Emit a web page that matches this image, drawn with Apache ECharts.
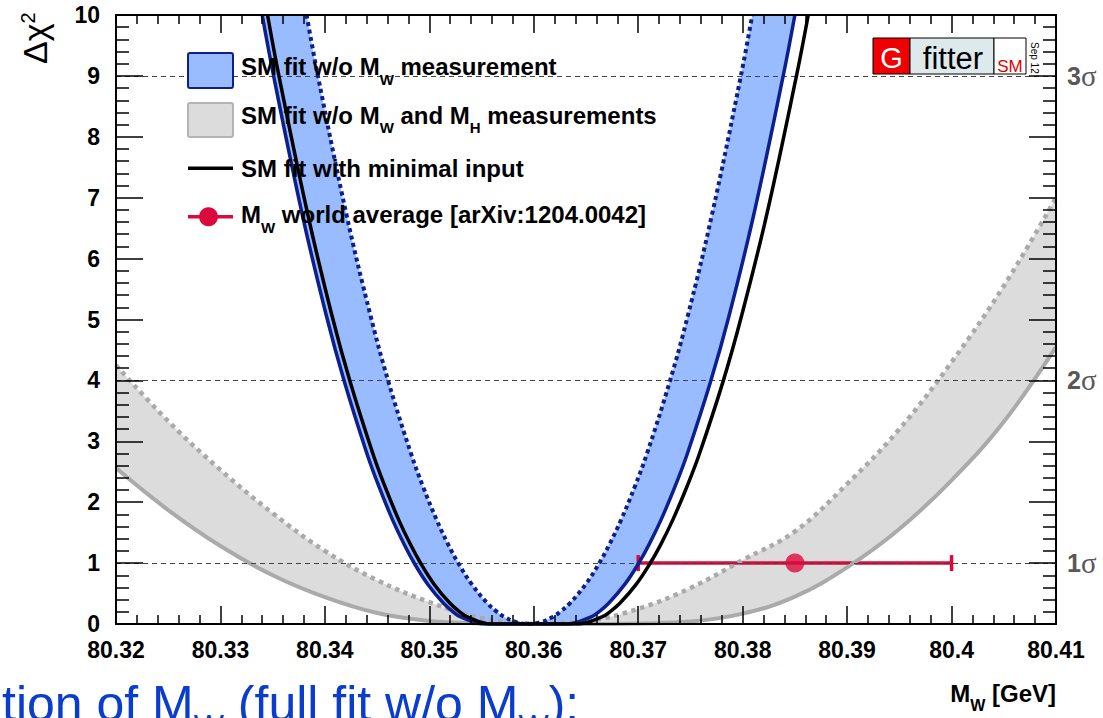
<!DOCTYPE html>
<html>
<head>
<meta charset="utf-8">
<script src="https://cdn.jsdelivr.net/npm/echarts@6/dist/echarts.min.js"></script>
<style>
html,body{margin:0;padding:0;background:#fff;}
#main{width:1103px;height:718px;}
</style>
</head>
<body>
<div id="main"></div>
<script>
// ---------------- data ----------------
// Grey band: SM fit w/o M_W and M_H measurements (solid = with theory unc., dotted = without)
const grayX       = [80.320,80.325,80.330,80.335,80.340,80.345,80.350,80.355,80.360,80.365,80.370,80.375,80.380,80.385,80.390,80.395,80.400,80.405,80.410];
const graySolidY  = [2.56, 1.87, 1.28, 0.80, 0.44, 0.18, 0.05, 0.01, 0.00, 0.00, 0.01, 0.04, 0.17, 0.45, 0.93, 1.56, 2.36, 3.32, 4.55];
const grayDottedY = [4.25, 3.33, 2.53, 1.82, 1.20, 0.72, 0.36, 0.10, 0.01, 0.05, 0.25, 0.59, 1.05, 1.52, 2.30, 3.20, 4.30, 5.55, 7.00];

// Blue band: SM fit w/o M_W measurement  [M_W, dchi2]
const blueSolidPts = [[80.33400,10],[80.33509,9],[80.33784,6.72],[80.34013,5.07],[80.34186,3.98],[80.34402,2.80],[80.34519,2.25],[80.34648,1.71],[80.34761,1.3],[80.34860,0.985],[80.34986,0.65],[80.35136,0.34],[80.35227,0.2],[80.35295,0.12],[80.35528,0],
                      [80.36314,0],[80.36553,0.12],[80.36623,0.2],[80.36717,0.34],[80.36871,0.65],[80.37000,0.985],[80.37102,1.3],[80.37218,1.71],[80.37351,2.25],[80.37471,2.80],[80.37693,3.98],[80.37871,5.07],[80.38106,6.72],[80.38388,9],[80.38500,10]];
const blueDottedPts = [[80.33825,10],[80.33933,9],[80.34207,6.72],[80.34436,5.07],[80.34608,3.98],[80.34824,2.80],[80.34941,2.25],[80.35070,1.71],[80.35182,1.3],[80.35282,0.985],[80.35407,0.65],[80.35556,0.34],[80.35648,0.2],[80.35715,0.12],[80.35832,0.03],[80.35950,0],
                       [80.36067,0.03],[80.36185,0.12],[80.36253,0.2],[80.36345,0.34],[80.36496,0.65],[80.36622,0.985],[80.36722,1.3],[80.36836,1.71],[80.36966,2.25],[80.37084,2.80],[80.37302,3.98],[80.37476,5.07],[80.37706,6.72],[80.37983,9],[80.38092,10]];
// Black: SM fit with minimal input
const blackPts = [[80.33451,10],[80.33560,9],[80.33837,6.72],[80.34067,5.07],[80.34241,3.98],[80.34459,2.80],[80.34577,2.25],[80.34707,1.71],[80.34821,1.3],[80.34921,0.985],[80.35047,0.65],[80.35198,0.34],[80.35290,0.2],[80.35358,0.12],[80.35593,0],
                  [80.36416,0],[80.36658,0.12],[80.36729,0.2],[80.36824,0.34],[80.36980,0.65],[80.37110,0.985],[80.37214,1.3],[80.37331,1.71],[80.37465,2.25],[80.37587,2.80],[80.37812,3.98],[80.37991,5.07],[80.38230,6.72],[80.38515,9],[80.38628,10]];
// M_W world average
const wAvgX   = [80.385];
const wAvgY   = [1];
const wAvgErr = [0.015];
// sigma reference levels
const sigmaLevels = [1, 4, 9];
const sigmaLabels = ['1', '2', '3'];

// ---------------- styling ----------------
const SMOOTH = 0.4;
const NAVY = '#0c1f8c', BLUEFILL = '#99bbff', GRAYFILL = '#dcdcdc', GRAYLINE = '#aaaaaa', RED = '#dc0a3c';
const FONT = 'Liberation Sans';

const graySolidPts  = grayX.map((x, i) => [x, graySolidY[i]]);
const grayDottedPts = grayX.map((x, i) => [x, grayDottedY[i]]);

// same bezier construction as the ECharts line smoothing, used for band fills
function smoothSegs(pts, smooth, move) {
  let d = '', prevX, prevY, cpx0, cpy0, cpx1, cpy1;
  const n = pts.length;
  for (let idx = 0; idx < n; idx++) {
    const x = pts[idx][0], y = pts[idx][1];
    if (idx === 0) {
      d += (move ? 'M' : 'L') + x + ' ' + y + ' ';
      cpx0 = x; cpy0 = y;
    } else {
      const ddx = x - prevX, ddy = y - prevY;
      if (ddx * ddx + ddy * ddy < 0.5) continue;
      let nextCpx0, nextCpy0;
      if (idx + 1 >= n) { cpx1 = x; cpy1 = y; }
      else {
        const nextX = pts[idx + 1][0], nextY = pts[idx + 1][1];
        let vx = nextX - prevX, vy = nextY - prevY;
        const lenPrev = Math.hypot(x - prevX, y - prevY), lenNext = Math.hypot(nextX - x, nextY - y);
        const ratio = lenNext / (lenNext + lenPrev);
        nextCpx0 = x + vx * smooth * ratio; nextCpy0 = y + vy * smooth * ratio;
        nextCpx0 = Math.min(nextCpx0, Math.max(nextX, x)); nextCpy0 = Math.min(nextCpy0, Math.max(nextY, y));
        nextCpx0 = Math.max(nextCpx0, Math.min(nextX, x)); nextCpy0 = Math.max(nextCpy0, Math.min(nextY, y));
        vx = nextCpx0 - x; vy = nextCpy0 - y;
        cpx1 = x - vx * lenPrev / lenNext; cpy1 = y - vy * lenPrev / lenNext;
        cpx1 = Math.min(cpx1, Math.max(prevX, x)); cpy1 = Math.min(cpy1, Math.max(prevY, y));
        cpx1 = Math.max(cpx1, Math.min(prevX, x)); cpy1 = Math.max(cpy1, Math.min(prevY, y));
        vx = x - cpx1; vy = y - cpy1;
        nextCpx0 = x + vx * lenNext / lenPrev; nextCpy0 = y + vy * lenNext / lenPrev;
      }
      d += 'C' + [cpx0, cpy0, cpx1, cpy1, x, y].join(' ') + ' ';
      cpx0 = nextCpx0; cpy0 = nextCpy0;
    }
    prevX = x; prevY = y;
  }
  return d;
}

function bandSeries(lower, upper, fill) {
  return {
    type: 'custom', coordinateSystem: 'cartesian2d', clip: true, z: 1, silent: true,
    data: [[80.36, 5]], encode: {x: 0, y: 1},
    renderItem: function (params, api) {
      const a = lower.map(p => api.coord(p));
      const b = upper.map(p => api.coord(p)).reverse();
      const d = smoothSegs(a, SMOOTH, true) + smoothSegs(b, SMOOTH, false) + 'Z';
      return {type: 'path', shape: {pathData: d}, style: {fill: fill}};
    }
  };
}

function lineSeries(name, pts, color, width, dash, z) {
  return {
    type: 'line', name: name, data: pts, smooth: SMOOTH, symbol: 'none', showSymbol: false,
    lineStyle: {color: color, width: width, type: dash || 'solid', cap: 'butt'},
    z: z, silent: true, clip: true
  };
}

// text with subscripts: parts = [[text, isSub], ...], positioned by alphabetic baseline
const mctx = document.createElement('canvas').getContext('2d');
function textWidth(t, size, weight, family) {
  mctx.font = weight + ' ' + size + 'px "' + family + '"';
  return mctx.measureText(t).width;
}
function subText(parts, x, baseline, size, subSize, drop, weight, family, color, align) {
  const widths = parts.map(p => textWidth(p[0], p[1] ? subSize : size, weight, family));
  const total = widths.reduce((a, b) => a + b, 0);
  let cx = align === 'right' ? x - total : x;
  const children = parts.map((p, i) => {
    const sz = p[1] ? subSize : size;
    const bl = p[1] ? baseline + drop : baseline;
    const el = {type: 'text', x: cx, y: bl - 0.35 * sz, z: 30, silent: true,
      style: {text: p[0], fontSize: sz, fontWeight: weight, fontFamily: family, fill: color, align: 'left', verticalAlign: 'middle'}};
    cx += widths[i];
    return el;
  });
  return {type: 'group', z: 30, silent: true, children: children};
}
const legendText = (parts, bl) => subText(parts, 241, bl, 24, 15, 9.3, 'bold', FONT, '#000', 'left');

const xAxisCommon = {
  type: 'value', min: 80.32, max: 80.41, interval: 0.01, z: 10,
  axisLine: {show: true, onZero: false, lineStyle: {color: '#000', width: 2}},
  axisTick: {show: true, inside: true, length: 18, lineStyle: {color: '#000', width: 1.5}},
  minorTick: {show: true, splitNumber: 5, length: 9, lineStyle: {color: '#000', width: 1.5}},
  splitLine: {show: false}, minorSplitLine: {show: false}
};
const yAxisCommon = {
  type: 'value', min: 0, max: 10, interval: 1, z: 10,
  axisLine: {show: true, onZero: false, lineStyle: {color: '#000', width: 2}},
  axisTick: {show: true, inside: true, length: 27, lineStyle: {color: '#000', width: 1.5}},
  minorTick: {show: true, splitNumber: 5, length: 13, lineStyle: {color: '#000', width: 1.5}},
  splitLine: {show: false}, minorSplitLine: {show: false}
};

const option = {
  animation: false,
  backgroundColor: '#fff',
  grid: {left: 116, right: 47, top: 15, bottom: 94, containLabel: false},
  xAxis: [
    Object.assign({}, xAxisCommon, {position: 'bottom',
      axisLabel: {show: true, margin: 14, fontSize: 23, fontWeight: 'bold', fontFamily: FONT, color: '#000',
                  showMinLabel: true, showMaxLabel: true,
                  formatter: v => String(parseFloat(v.toFixed(4)))}}),
    Object.assign({}, xAxisCommon, {position: 'top', axisLabel: {show: false}})
  ],
  yAxis: [
    Object.assign({}, yAxisCommon, {position: 'left',
      axisLabel: {show: true, margin: 16, fontSize: 23, fontWeight: 'bold', fontFamily: FONT, color: '#000',
                  showMinLabel: true, showMaxLabel: true}}),
    Object.assign({}, yAxisCommon, {position: 'right',
      axisLabel: {show: true, margin: 11, showMinLabel: true, showMaxLabel: true,
        formatter: function (v) {
          const i = sigmaLevels.indexOf(v);
          return i >= 0 ? '{n|' + sigmaLabels[i] + '}{g|σ}' : '';
        },
        rich: {
          n: {fontSize: 25, fontWeight: 'bold', fontFamily: FONT, color: '#585858'},
          g: {fontSize: 29, fontFamily: 'Liberation Serif', color: '#585858'}
        }}})
  ],
  series: [
    bandSeries(graySolidPts, grayDottedPts, GRAYFILL),
    bandSeries(blueSolidPts, blueDottedPts, BLUEFILL),
    {
      type: 'custom', coordinateSystem: 'cartesian2d', clip: true, z: 2, silent: true,
      data: wAvgX.map((x, i) => [x, wAvgY[i], wAvgErr[i]]), encode: {x: 0, y: 1},
      renderItem: function (params, api) {
        const l = api.coord([api.value(0) - api.value(2), api.value(1)]);
        const r = api.coord([api.value(0) + api.value(2), api.value(1)]);
        const st = {stroke: RED, lineWidth: 3.5};
        return {type: 'group', children: [
          {type: 'line', shape: {x1: l[0], y1: l[1], x2: r[0], y2: r[1]}, style: st},
          {type: 'line', shape: {x1: l[0], y1: l[1] - 8, x2: l[0], y2: l[1] + 8}, style: st},
          {type: 'line', shape: {x1: r[0], y1: r[1] - 8, x2: r[0], y2: r[1] + 8}, style: st}
        ]};
      }
    },
    {
      type: 'line', data: [[80.32, 0]], symbol: 'none', lineStyle: {opacity: 0}, z: 3, silent: true,
      markLine: {silent: true, symbol: ['none', 'none'], label: {show: false}, animation: false,
        lineStyle: {color: '#444', width: 1.2, type: [5, 4]},
        data: sigmaLevels.map(v => ({yAxis: v}))}
    },
    lineSeries('gray dotted', grayDottedPts, GRAYLINE, 4.5, [4.5, 4.5], 4),
    lineSeries('gray solid', graySolidPts, GRAYLINE, 4, 'solid', 4),
    lineSeries('blue dotted', blueDottedPts, NAVY, 4, [4, 3.5], 5),
    lineSeries('blue solid', blueSolidPts, NAVY, 3.5, 'solid', 5),
    lineSeries('SM fit with minimal input', blackPts, '#000', 3.5, 'solid', 6),
    {
      type: 'scatter', data: wAvgX.map((x, i) => [x, wAvgY[i]]), symbol: 'circle', symbolSize: 19,
      itemStyle: {color: RED}, z: 7, silent: true
    }
  ],
  graphic: [
    // legend
    {type: 'rect', z: 20, silent: true, shape: {x: 188, y: 53, width: 45, height: 35, r: 2}, style: {fill: BLUEFILL, stroke: NAVY, lineWidth: 2}},
    {type: 'rect', z: 20, silent: true, shape: {x: 188, y: 103, width: 45, height: 34, r: 2}, style: {fill: GRAYFILL, stroke: '#b4b4b4', lineWidth: 2}},
    {type: 'line', z: 20, silent: true, shape: {x1: 188, y1: 168.3, x2: 233, y2: 168.3}, style: {stroke: '#000', lineWidth: 3.5}},
    {type: 'line', z: 20, silent: true, shape: {x1: 188, y1: 216.7, x2: 233, y2: 216.7}, style: {stroke: RED, lineWidth: 3.5}},
    {type: 'circle', z: 20, silent: true, shape: {cx: 208.5, cy: 216.7, r: 9.5}, style: {fill: RED}},
    legendText([['SM fit w/o M', 0], ['W', 1], [' measurement', 0]], 75),
    legendText([['SM fit w/o M', 0], ['W', 1], [' and M', 0], ['H', 1], [' measurements', 0]], 123.5),
    legendText([['SM fit with minimal input', 0]], 176.5),
    legendText([['M', 0], ['W', 1], [' world average [arXiv:1204.0042]', 0]], 223),
    // y axis title
    {type: 'text', x: 35, y: 64, rotation: Math.PI / 2, z: 30, silent: true,
     style: {text: '{a|Δχ}{b|2}', align: 'left', verticalAlign: 'middle', fontSize: 34, fontFamily: FONT, fill: '#000',
             rich: {a: {fontSize: 34, lineHeight: 34, fontFamily: FONT, fill: '#000'},
                    b: {fontSize: 20, lineHeight: 20, verticalAlign: 'top', fontFamily: FONT, fill: '#000'}}}},
    // x axis title
    subText([['M', 0], ['W', 1], [' [GeV]', 0]], 1056, 702, 24, 16, 9, 'bold', FONT, '#000', 'right'),
    // Gfitter logo
    {type: 'rect', z: 20, silent: true, shape: {x: 873, y: 38, width: 37, height: 36}, style: {fill: '#f00000', stroke: '#000', lineWidth: 1}},
    {type: 'rect', z: 20, silent: true, shape: {x: 910, y: 38, width: 84, height: 36}, style: {fill: '#dde9ea', stroke: '#000', lineWidth: 1}},
    {type: 'rect', z: 20, silent: true, shape: {x: 994, y: 38, width: 32, height: 36}, style: {fill: '#ffffff', stroke: '#000', lineWidth: 1}},
    {type: 'text', z: 21, silent: true, x: 891.5, y: 58.3, style: {text: 'G', align: 'center', verticalAlign: 'middle', fontSize: 29, fontFamily: FONT, fill: '#fff'}},
    {type: 'text', z: 21, silent: true, x: 953, y: 58.7, style: {text: 'fitter', align: 'center', verticalAlign: 'middle', fontSize: 31, fontFamily: FONT, fill: '#000'}},
    {type: 'text', z: 21, silent: true, x: 1010, y: 66.4, style: {text: 'SM', align: 'center', verticalAlign: 'middle', fontSize: 17, fontFamily: FONT, fill: '#e00000'}},
    {type: 'text', z: 21, silent: true, x: 1034, y: 42, rotation: -Math.PI / 2, style: {text: 'Sep 12', align: 'left', verticalAlign: 'middle', fontSize: 10, fontFamily: FONT, fill: '#000'}},
    // cut-off slide text at the bottom
    subText([['tion of M', 0], ['W', 1], [' (full fit w/o M', 0], ['W', 1], ['):', 0]], 2, 721, 50, 32, 16, 'normal', FONT, '#0a3ccd', 'left')
  ]
};

const chart = echarts.init(document.getElementById('main'), null, {renderer: 'svg', width: 1103, height: 718});
chart.setOption(option);
</script>
</body>
</html>
